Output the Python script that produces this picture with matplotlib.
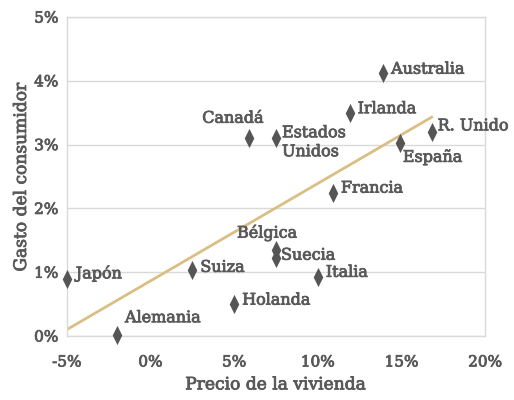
import matplotlib
matplotlib.use("Agg")
import matplotlib.pyplot as plt
import matplotlib.patheffects as pe
from matplotlib.path import Path

# data (percent)
countries = ["Japón", "Alemania", "Suiza", "Holanda", "Bélgica", "Suecia", "Italia",
             "Francia", "Canadá", "Estados\nUnidos", "Irlanda", "Australia", "España", "R. Unido"]
house_price = [-5.0, -2.0, 2.5, 5.0, 7.5, 7.5, 10.0, 10.9, 5.9, 7.5, 11.9, 13.9, 14.9, 16.8]
consumer_spend = [0.9, 0.02, 1.03, 0.5, 1.35, 1.22, 0.92, 2.24, 3.1, 3.1, 3.5, 4.12, 3.02, 3.2]

trend_x = [-5.0, 16.8]
trend_y = [0.1, 3.43]

x_ticks = [-5, 0, 5, 10, 15, 20]
y_ticks = [0, 1, 2, 3, 4, 5]

# label placement (pixel offsets)
label_offsets = {
    "Japón": (9, 5),
    "Alemania": (8, 17),
    "Suiza": (8, 3),
    "Holanda": (8, 4),
    "Bélgica": (-39, 17),
    "Suecia": (5, 3),
    "Italia": (8, 5),
    "Francia": (8, 5),
    "Canadá": (-47, 20),
    "Estados\nUnidos": (6, -4),
    "Irlanda": (8, 4),
    "Australia": (8, 4),
    "España": (3, -14),
    "R. Unido": (6, 6),
}

TEXT = "#595959"
GRID = "#d9d9d9"
heavier = [pe.withStroke(linewidth=0.6, foreground=TEXT)]

plt.rcParams["font.family"] = ["DejaVu Serif"]

thin_diamond = Path([(0, 1), (0.5, 0), (0, -1), (-0.5, 0), (0, 1)],
                    [Path.MOVETO, Path.LINETO, Path.LINETO, Path.LINETO, Path.CLOSEPOLY])

fig = plt.figure(figsize=(5.14, 4.0), dpi=100)
ax = fig.add_axes([0.130, 0.16, 0.814, 0.7975])

ax.plot(trend_x, trend_y, color="#d9bf85", linewidth=2, zorder=2)
ax.scatter(house_price, consumer_spend, marker=thin_diamond, s=190, color="#555555",
           linewidths=0, zorder=3, clip_on=False)

for name, xv, yv in zip(countries, house_price, consumer_spend):
    ax.annotate(name, (xv, yv), xytext=label_offsets[name], textcoords="offset pixels",
                ha="left", va="center", fontsize=11.5, color=TEXT, linespacing=1.15,
                annotation_clip=False, zorder=4, path_effects=heavier)

ax.set_xlim(-5, 20)
ax.set_ylim(0, 5)
ax.set_xticks(x_ticks)
ax.set_yticks(y_ticks)
ax.set_xticklabels([f"{t}%" for t in x_ticks])
ax.set_yticklabels([f"{t}%" for t in y_ticks])
ax.tick_params(length=0, labelsize=11, labelcolor=TEXT, pad=6)
ax.tick_params(axis="x", pad=14)
for lbl in ax.get_xticklabels() + ax.get_yticklabels():
    lbl.set_path_effects(heavier)

ax.grid(axis="y", color=GRID, linewidth=1)
ax.set_axisbelow(True)
for side in ["left", "right", "top", "bottom"]:
    ax.spines[side].set_color(GRID)
    ax.spines[side].set_linewidth(1)

ax.set_xlabel("Precio de la vivienda", fontsize=12.3, color=TEXT, labelpad=5,
              path_effects=heavier)
ax.set_ylabel("Gasto del consumidor", fontsize=12.3, color=TEXT, labelpad=3,
              path_effects=heavier)

fig.savefig("out.png", dpi=100)
